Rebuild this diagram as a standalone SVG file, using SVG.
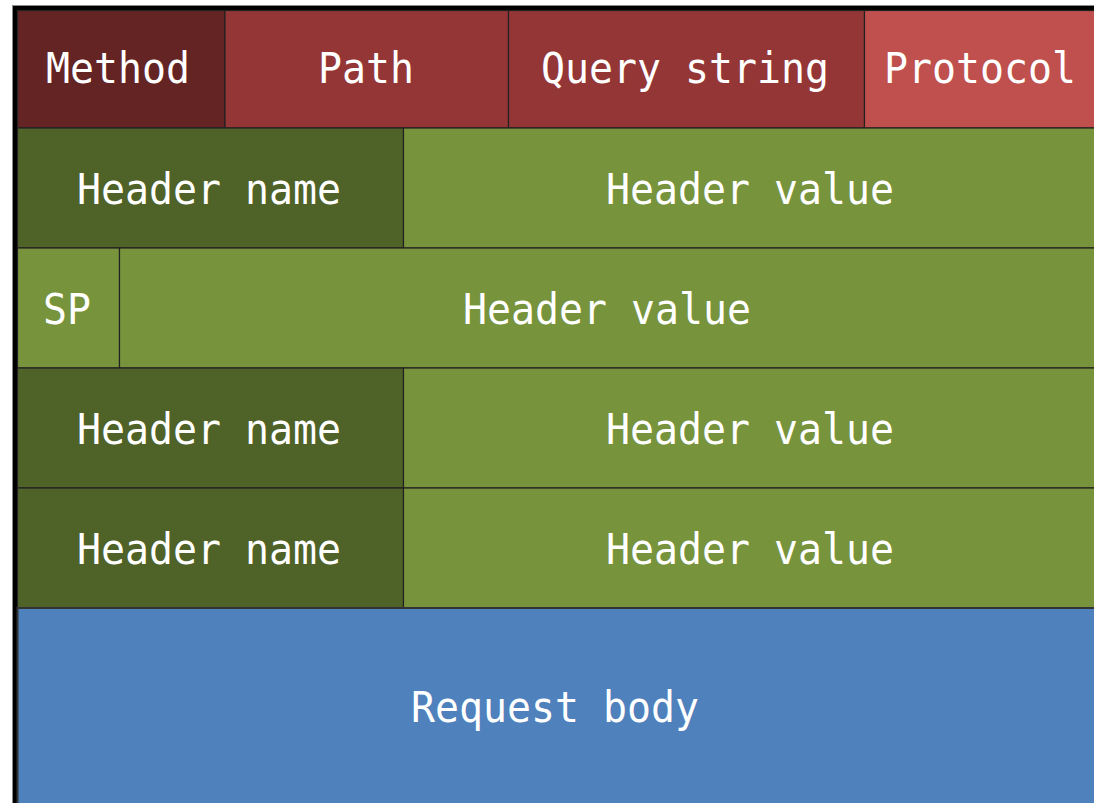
<svg xmlns="http://www.w3.org/2000/svg" width="1094" height="803" viewBox="0 0 1094 803">
  <style>
    .cell { stroke: #222; stroke-width: 1.2; }
    .lbl { fill: #ffffff; font-family: "DejaVu Sans Mono", "Liberation Mono", monospace; font-size: 43px; }
    .m { fill: #642424; }
    .p { fill: #943636; }
    .pr { fill: #C0504D; }
    .hn { fill: #4F6228; }
    .hv { fill: #77933C; }
    .b { fill: #4F81BD; }
  </style>
  <rect x="0" y="0" width="1094" height="803" fill="#ffffff"/>
  <g id="frame">
    <rect x="12" y="5" width="1090" height="805" fill="#8a8a8a"/>
    <rect x="13" y="6" width="1090" height="805" fill="#000000"/>
  </g>
  <g id="method"><rect class="cell m" x="17.5" y="10.5" width="207.5" height="117.5"/><text class="lbl" x="46" y="83" textLength="144" lengthAdjust="spacingAndGlyphs">Method</text></g>
  <g id="path"><rect class="cell p" x="225" y="10.5" width="283.5" height="117.5"/><text class="lbl" x="318" y="83" textLength="96" lengthAdjust="spacingAndGlyphs">Path</text></g>
  <g id="query"><rect class="cell p" x="508.5" y="10.5" width="356" height="117.5"/><text class="lbl" x="541" y="83" textLength="288" lengthAdjust="spacingAndGlyphs">Query string</text></g>
  <g id="protocol"><rect class="cell pr" x="864.5" y="10.5" width="240" height="117.5"/><text class="lbl" x="884" y="83" textLength="192" lengthAdjust="spacingAndGlyphs">Protocol</text></g>

  <g id="hname1"><rect class="cell hn" x="17.5" y="128" width="386" height="120"/><text class="lbl" x="77" y="203.5" textLength="264" lengthAdjust="spacingAndGlyphs">Header name</text></g>
  <g id="hvalue1"><rect class="cell hv" x="403.5" y="128" width="700" height="120"/><text class="lbl" x="606" y="203.5" textLength="288" lengthAdjust="spacingAndGlyphs">Header value</text></g>

  <g id="sp"><rect class="cell hv" x="17.5" y="248" width="102" height="120"/><text class="lbl" x="43" y="323.5" textLength="48" lengthAdjust="spacingAndGlyphs">SP</text></g>
  <g id="hvalue2"><rect class="cell hv" x="119.5" y="248" width="984" height="120"/><text class="lbl" x="463" y="323.5" textLength="288" lengthAdjust="spacingAndGlyphs">Header value</text></g>

  <g id="hname2"><rect class="cell hn" x="17.5" y="368" width="386" height="120"/><text class="lbl" x="77" y="443.5" textLength="264" lengthAdjust="spacingAndGlyphs">Header name</text></g>
  <g id="hvalue3"><rect class="cell hv" x="403.5" y="368" width="700" height="120"/><text class="lbl" x="606" y="443.5" textLength="288" lengthAdjust="spacingAndGlyphs">Header value</text></g>

  <g id="hname3"><rect class="cell hn" x="17.5" y="488" width="386" height="120"/><text class="lbl" x="77" y="563.5" textLength="264" lengthAdjust="spacingAndGlyphs">Header name</text></g>
  <g id="hvalue4"><rect class="cell hv" x="403.5" y="488" width="700" height="120"/><text class="lbl" x="606" y="563.5" textLength="288" lengthAdjust="spacingAndGlyphs">Header value</text></g>

  <g id="body"><rect class="b" x="17.5" y="608" width="1090" height="200" stroke="#333" stroke-width="2"/><text class="lbl" x="411" y="722" textLength="288" lengthAdjust="spacingAndGlyphs">Request body</text></g>
  <g id="connectors"/>
</svg>
